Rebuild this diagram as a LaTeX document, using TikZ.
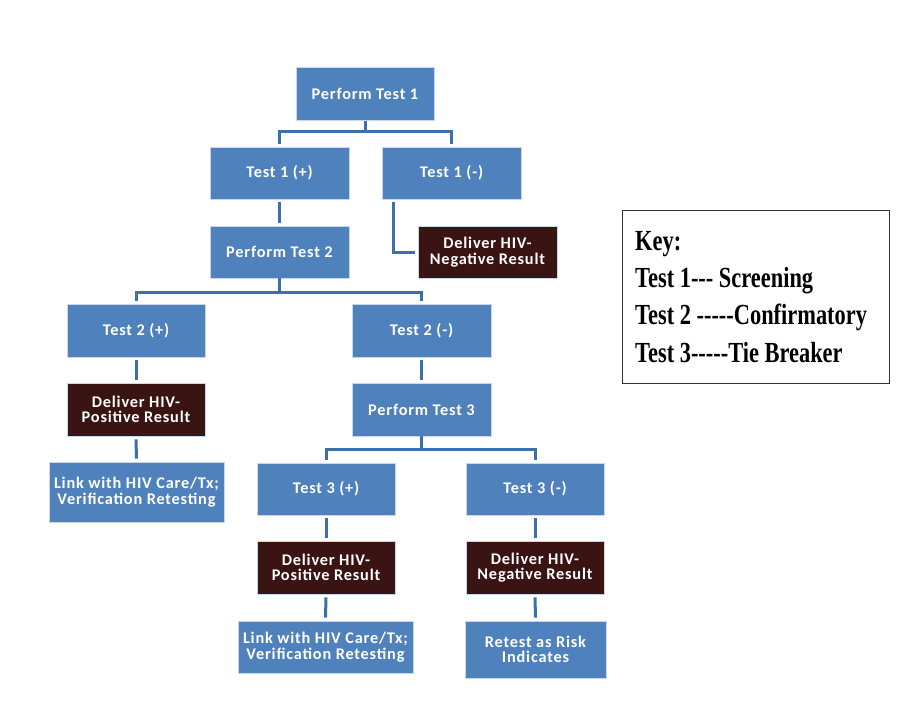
\documentclass[tikz,border=0pt]{standalone}
\usepackage{fontspec}
\usepackage{graphicx}
\newfontfamily\boxfont{Carlito}[LetterSpace=5]
\newfontfamily\keyfont{Liberation Serif}
\definecolor{boxblue}{HTML}{4F81BD}
\definecolor{boxdark}{HTML}{3A1313}
\definecolor{linkblue}{HTML}{3D6FAD}
\definecolor{edgelight}{HTML}{C9D7EA}
\newcommand{\hy}{-\kern0pt}
\tikzset{
  bx/.style={draw=edgelight, line width=0.8pt, fill=boxblue, text=white,
    minimum width=138pt, minimum height=53pt, inner sep=0pt, align=center,
    font=\boxfont\bfseries\fontsize{16.3}{15.5}\selectfont},
  dk/.style={bx, fill=boxdark},
  conn/.style={draw=linkblue, line width=3pt, shorten <=3pt, shorten >=3pt},
  keyline/.style={anchor=west, inner sep=0pt, font=\keyfont\bfseries\fontsize{22.4}{22.4}\selectfont}
}
\begin{document}
\begin{tikzpicture}[x=1pt,y=-1pt]
\useasboundingbox (0,0) rectangle (900,720);
\fill[white] (0,0) rectangle (900,720);

\node[bx] (pt1) at (365,94) {Perform Test 1};
\node[bx, minimum width=139pt, minimum height=52pt] (t1p) at (279.5,173) {Test 1 (+)};
\node[bx, minimum width=139pt, minimum height=52pt] (t1m) at (451.5,173) {Test 1 (-)};
\node[bx, minimum width=139pt, minimum height=52pt] (pt2) at (279.5,252) {Perform Test 2};
\node[dk, minimum width=139pt, minimum height=52pt] (dn1) at (487.5,252) {Deliver HIV-\\Negative Result};
\node[bx] (t2p) at (136,330.5) {Test 2 (+)};
\node[bx, minimum width=139pt] (t2m) at (421.5,330.5) {Test 2 (-)};
\node[dk] (dp1) at (136,409.5) {Deliver HIV-\\Positive Result};
\node[bx, minimum width=139pt] (pt3) at (421.5,409.5) {Perform Test 3};
\node[bx, minimum width=175pt, minimum height=60pt] (lk1) at (136.5,492) {Link with HIV Care/Tx;\\Verification Retesting};
\node[bx, minimum height=52pt] (t3p) at (326,489) {Test 3 (+)};
\node[bx, minimum height=52pt] (t3m) at (535,489) {Test 3 (-)};
\node[dk] (dp2) at (326,567.5) {Deliver HIV-\\Positive Result};
\node[dk] (dn2) at (535,567.5) {Deliver HIV-\\Negative Result};
\node[bx, minimum width=175pt, minimum height=52pt] (lk2) at (325.5,647) {Link with HIV Care/Tx;\\Verification Retesting};
\node[bx, minimum width=141pt, minimum height=57pt] (rt) at (535.5,649.5) {Retest as Risk\\Indicates};

% branches
\draw[conn, shorten <=0pt] (pt1.south) -- ++(0,11) -| (t1p.north);
\draw[conn, shorten <=0pt] (pt1.south) -- ++(0,11) -| (t1m.north);
\draw[conn] (t1p.south) -- (pt2.north);
\draw[conn] ([xshift=12pt]t1m.south west) |- (dn1.west);
\draw[conn, shorten <=0pt] (pt2.south) -- ++(0,14) -| (t2p.north);
\draw[conn, shorten <=0pt] (pt2.south) -- ++(0,14) -| (t2m.north);
\draw[conn] (t2p.south) -- (dp1.north);
\draw[conn] (dp1.south) -- (lk1.north);
\draw[conn] (t2m.south) -- (pt3.north);
\draw[conn, shorten <=0pt] (pt3.south) -- ++(0,13) -| (t3p.north);
\draw[conn, shorten <=0pt] (pt3.south) -- ++(0,13) -| (t3m.north);
\draw[conn] (t3p.south) -- (dp2.north);
\draw[conn] (dp2.south) -- (lk2.north);
\draw[conn] (t3m.south) -- (dn2.north);
\draw[conn] (dn2.south) -- (rt.north);

% key
\node[draw=black!80, line width=1pt, minimum width=267pt, minimum height=173pt, inner sep=0pt] (key) at (755.5,296.5) {};
\node[keyline] (k1) at (635,244) {\scalebox{1}[1.3]{Key:}};
\node[keyline] (k2) at (635,281) {\scalebox{1}[1.3]{Test 1\hy\hy- Screening}};
\node[keyline] (k3) at (635,317) {\scalebox{1}[1.3]{Test 2 \hy\hy\hy\hy-Confirmatory}};
\node[keyline] (k4) at (635,353) {\scalebox{1}[1.3]{Test 3\hy\hy\hy\hy-Tie Breaker}};
\end{tikzpicture}
\end{document}
